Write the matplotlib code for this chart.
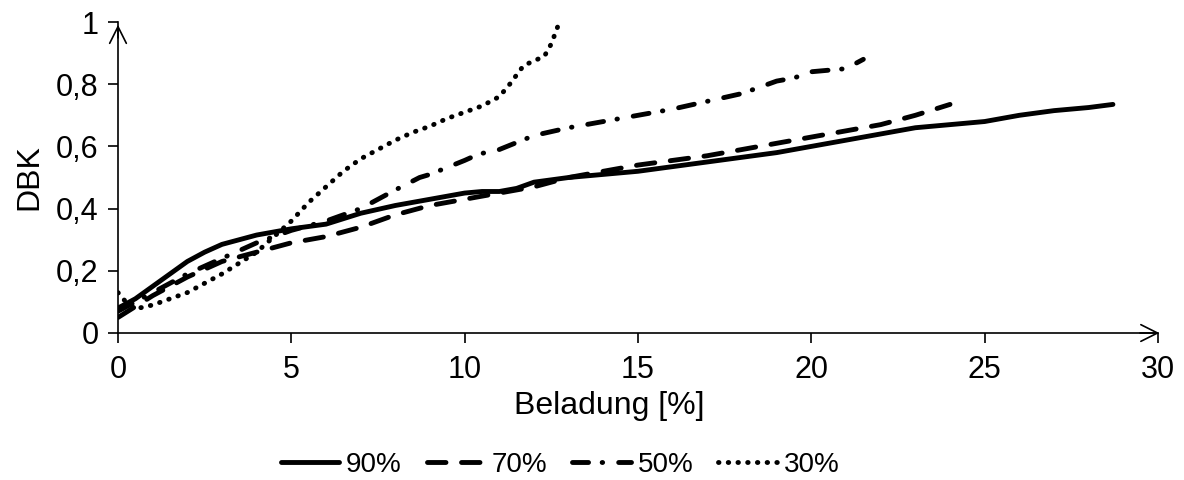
import matplotlib.pyplot as plt

plt.rcParams['font.family'] = ['Liberation Sans', 'DejaVu Sans']

# -----------------------
# Data
# -----------------------
x_90 = [0, 0.5, 1, 1.5, 2, 2.5, 3, 4, 5, 6, 7, 8, 9, 10, 10.5, 11, 11.5, 12, 13, 14,
        15, 16, 17, 18, 19, 20, 21, 22, 23, 24, 25, 26, 27, 28, 28.7]
y_90 = [0.08, 0.11, 0.15, 0.19, 0.23, 0.26, 0.285, 0.315, 0.335, 0.35, 0.385, 0.41, 0.43, 0.45,
        0.455, 0.455, 0.465, 0.485, 0.5, 0.51, 0.52, 0.535, 0.55, 0.565, 0.58, 0.60, 0.62, 0.64,
        0.66, 0.67, 0.68, 0.70, 0.715, 0.725, 0.735]

x_70 = [0, 1, 2, 3, 4, 5, 6, 7, 8, 9, 10, 11, 12, 13, 14, 15, 16, 17, 18, 19, 20, 21, 22, 23, 24]
y_70 = [0.05, 0.12, 0.18, 0.23, 0.26, 0.29, 0.31, 0.34, 0.38, 0.41, 0.43, 0.45, 0.47, 0.5, 0.52,
        0.54, 0.555, 0.57, 0.59, 0.61, 0.63, 0.65, 0.67, 0.70, 0.735]

x_50 = [0, 1, 2, 3, 4, 5, 6, 7, 8, 8.7, 9, 10, 10.4, 11, 12, 13, 14, 15, 16, 17, 18, 19, 19.5,
        20, 20.5, 21, 21.5]
y_50 = [0.07, 0.13, 0.19, 0.24, 0.29, 0.33, 0.36, 0.40, 0.46, 0.50, 0.51, 0.555, 0.575, 0.59,
        0.635, 0.66, 0.68, 0.70, 0.72, 0.745, 0.77, 0.81, 0.82, 0.84, 0.845, 0.85, 0.88]

x_30 = [0, 0.3, 0.6, 1, 2, 3, 4, 4.5, 5, 5.5, 6, 6.5, 7, 7.5, 8, 8.5, 9, 9.5, 10, 10.5, 11,
        11.3, 11.7, 12, 12.3, 12.5, 12.7]
y_30 = [0.13, 0.09, 0.08, 0.09, 0.13, 0.19, 0.26, 0.31, 0.36, 0.42, 0.47, 0.52, 0.56, 0.59,
        0.62, 0.645, 0.665, 0.69, 0.71, 0.73, 0.76, 0.80, 0.86, 0.875, 0.89, 0.93, 0.99]

x_ticks = [0, 5, 10, 15, 20, 25, 30]
y_ticks = [0, 0.2, 0.4, 0.6, 0.8, 1]
y_tick_labels = ['0', '0,2', '0,4', '0,6', '0,8', '1']

# -----------------------
# Figure
# -----------------------
fig = plt.figure(figsize=(11.84, 4.8), dpi=100)
ax = fig.add_axes([118 / 1184, 1 - 333 / 480, 1040 / 1184, 311 / 480])

lw = 3.5
ax.plot(x_90, y_90, color='black', lw=lw, solid_capstyle='round', label='90%')
ax.plot(x_70, y_70, color='black', lw=lw, dashes=(3.8, 3.2), dash_capstyle='round', label='70%')
ax.plot(x_50, y_50, color='black', lw=lw, dashes=(3.3, 2.8, 0.1, 3.3), dash_capstyle='round', label='50%')
ax.plot(x_30, y_30, color='black', lw=lw, dashes=(0.1, 1.9), dash_capstyle='round', label='30%')

ax.set_xlim(0, 30)
ax.set_ylim(0, 1)
ax.set_xticks(x_ticks)
ax.set_yticks(y_ticks)
ax.set_yticklabels(y_tick_labels)
ax.tick_params(direction='out', length=7, width=1.2, labelsize=22)
ax.tick_params(axis='x', pad=9)
ax.tick_params(axis='y', pad=7)

for s in ['top', 'right']:
    ax.spines[s].set_visible(False)
for s in ['left', 'bottom']:
    ax.spines[s].set_linewidth(1.2)

# arrow heads on the axes
ax.annotate('', xy=(1.004, 0), xytext=(0.98, 0), xycoords='axes fraction',
            arrowprops=dict(arrowstyle='->', lw=1.2, mutation_scale=30, color='black'))
ax.annotate('', xy=(0, 1.0), xytext=(0, 0.94), xycoords='axes fraction',
            arrowprops=dict(arrowstyle='->', lw=1.2, mutation_scale=30, color='black'))

ax.set_xlabel('Beladung [%]', fontsize=23)
ax.xaxis.set_label_coords((609 - 118) / 1040, (333 - 391) / 311)
ax.set_ylabel('DBK', fontsize=23, labelpad=8)

fig.legend(loc='center', bbox_to_anchor=(560 / 1184, 1 - 465 / 480), ncol=4, frameon=False,
           fontsize=20, handlelength=2.1, handletextpad=0.25, columnspacing=0.9)

fig.savefig('out.png', dpi=100)
